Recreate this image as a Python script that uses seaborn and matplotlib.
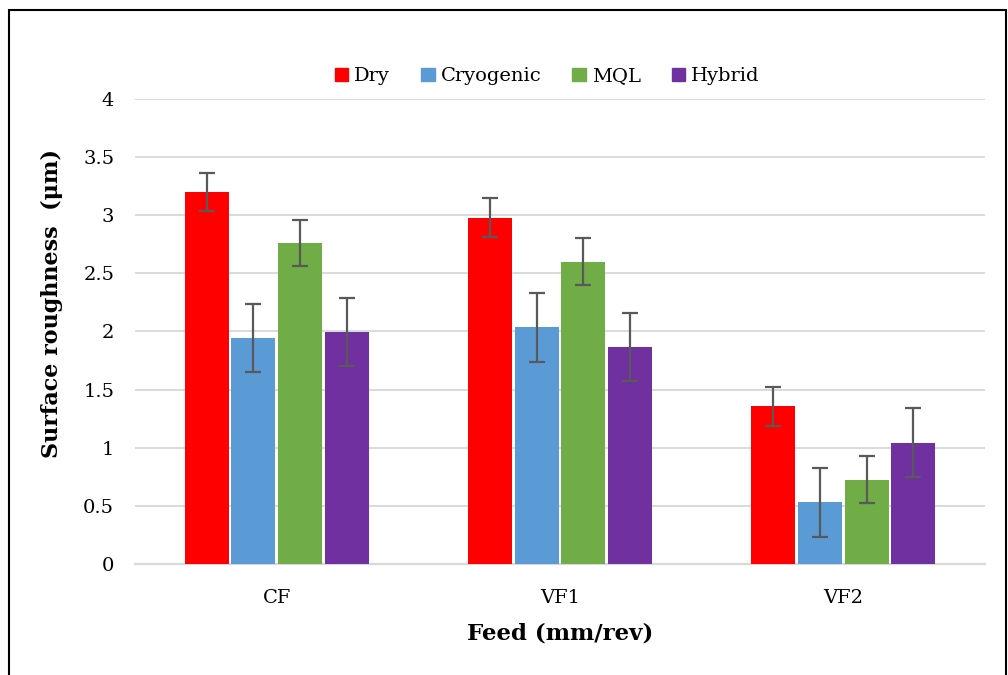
import matplotlib
matplotlib.use("Agg")
import matplotlib.pyplot as plt
import matplotlib.patches as mpatches
import seaborn as sns
import pandas as pd

# Surface roughness by feed condition and cooling strategy
feeds = ["CF", "VF1", "VF2"]
methods = ["Dry", "Cryogenic", "MQL", "Hybrid"]
dry = [3.20, 2.98, 1.355]
cryogenic = [1.945, 2.035, 0.53]
mql = [2.76, 2.60, 0.725]
hybrid = [1.995, 1.865, 1.045]
dry_err = [0.165, 0.165, 0.165]
cryogenic_err = [0.295, 0.295, 0.295]
mql_err = [0.20, 0.20, 0.20]
hybrid_err = [0.295, 0.295, 0.295]
colors = ["#FF0000", "#5B9BD5", "#70AD47", "#7030A0"]
yticks = [0, 0.5, 1, 1.5, 2, 2.5, 3, 3.5, 4]

values = [dry, cryogenic, mql, hybrid]
errors = [dry_err, cryogenic_err, mql_err, hybrid_err]
df = pd.DataFrame({
    "Feed": [f for _ in methods for f in feeds],
    "Method": [m for m in methods for _ in feeds],
    "Ra": [v for series in values for v in series],
    "Err": [e for series in errors for e in series],
})

sns.set_theme(style="white")
plt.rcParams["font.family"] = ["DejaVu Serif"]
plt.rcParams["text.color"] = "black"
plt.rcParams["axes.labelcolor"] = "black"

fig = plt.figure(figsize=(10.08, 6.75), dpi=100)
ax = fig.add_axes([0.134, 0.1644, 0.843, 0.689])

sns.barplot(data=df, x="Feed", y="Ra", hue="Method", order=feeds,
            hue_order=methods, palette=colors, saturation=1, width=0.66,
            gap=0.06, errorbar=None, edgecolor="none", ax=ax, zorder=3)

# error bars centred on each drawn bar
for m, container in zip(methods, ax.containers):
    sub = df[df["Method"] == m].set_index("Feed").loc[feeds]
    xs = [p.get_x() + p.get_width() / 2 for p in container.patches]
    hs = [p.get_height() for p in container.patches]
    ax.errorbar(xs, hs, yerr=sub["Err"].values, fmt="none",
                ecolor="#595959", elinewidth=1.6, capsize=5.5,
                capthick=1.6, zorder=4)

ax.set_ylim(0, 4)
ax.set_xlim(-0.5, 2.5)
ax.set_yticks(yticks)
ax.set_yticklabels([f"{t:g}" for t in yticks])
ax.yaxis.grid(True, color="#d9d9d9", linewidth=1.4, zorder=0)
ax.set_axisbelow(True)
for s in ["top", "right", "left"]:
    ax.spines[s].set_visible(False)
ax.spines["bottom"].set_color("#d9d9d9")
ax.spines["bottom"].set_linewidth(1.6)
ax.tick_params(axis="both", length=0, labelsize=14, colors="black")
ax.tick_params(axis="y", pad=15)
ax.tick_params(axis="x", pad=18)

ax.set_ylabel("Surface roughness  (μm)", fontsize=16, fontweight="bold")
ax.yaxis.set_label_coords(-0.085, 0.56)
ax.set_xlabel("Feed (mm/rev)", fontsize=16.5, fontweight="bold", labelpad=11)

handles = [mpatches.Patch(color=c, label=m) for c, m in zip(colors, methods)]
ax.legend(handles=handles, loc="center", bbox_to_anchor=(0.485, 1.049),
          ncol=4, frameon=False, fontsize=14, handlelength=0.7,
          handleheight=0.7, handletextpad=0.3, columnspacing=1.6,
          labelcolor="black")

# outer frame around the chart
fig.patches.append(mpatches.Rectangle((9 / 1008, -0.01), 997 / 1008,
                                      1 - 10 / 675 + 0.01,
                                      transform=fig.transFigure,
                                      fill=False, edgecolor="black",
                                      linewidth=1.5))

fig.savefig("out.png", dpi=100)
